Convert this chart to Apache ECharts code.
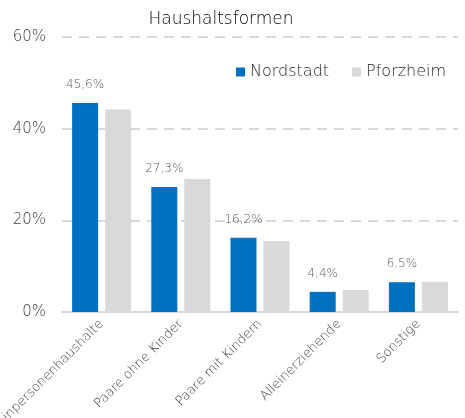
<!DOCTYPE html>
<html>
<head>
<meta charset="utf-8">
<script src="https://cdn.jsdelivr.net/npm/echarts@6/dist/echarts.min.js"></script>
<style>
  html, body { margin: 0; padding: 0; background: #ffffff; }
  #chart { width: 465px; height: 418px; }
</style>
</head>
<body>
<div id="chart"></div>
<script>
// Household types: share in Nordstadt vs. the whole city of Pforzheim (%)
const categories = ['Einpersonenhaushalte', 'Paare ohne Kinder', 'Paare mit Kindern', 'Alleinerziehende', 'Sonstige'];
const nordstadt = [45.6, 27.3, 16.2, 4.4, 6.5];
const pforzheim = [44.2, 29.0, 15.5, 4.8, 6.6];
const yTicks = [0, 20, 40, 60];

const font = '"DejaVu Sans", sans-serif';
const fmt = v => v.toFixed(1).replace('.', ',') + '%';

const chart = echarts.init(document.getElementById('chart'), null, { renderer: 'canvas' });
chart.setOption({
  animation: false,
  textStyle: { fontFamily: font },
  title: {
    text: 'Haushaltsformen',
    left: 216, top: 6, textAlign: 'center',
    textStyle: { fontFamily: font, fontSize: 17, fontWeight: 200, color: '#000000' }
  },
  legend: {
    left: 231, top: 59,
    itemWidth: 9, itemHeight: 9, itemGap: 23,
    icon: 'rect',
    textStyle: { fontFamily: font, fontSize: 16, fontWeight: 200, color: '#262626' },
    data: ['Nordstadt', 'Pforzheim']
  },
  grid: { left: 62, right: 7, top: 37, bottom: 106, containLabel: false, outerBoundsMode: 'none' },
  xAxis: {
    type: 'category',
    data: categories,
    axisTick: { show: false },
    axisLine: { lineStyle: { color: '#d9d9d9', width: 2 } },
    axisLabel: {
      rotate: 45, interval: 0, margin: 10,
      fontFamily: font, fontSize: 13, fontWeight: 200, color: '#404040'
    }
  },
  yAxis: {
    type: 'value',
    min: yTicks[0], max: yTicks[yTicks.length - 1], interval: 20,
    axisLine: { show: false },
    axisTick: { show: false },
    axisLabel: {
      margin: 16, fontFamily: font, fontSize: 15, fontWeight: 200, color: '#404040',
      formatter: v => v + '%'
    },
    splitLine: { lineStyle: { color: '#d9d9d9', width: 2, type: [10, 7] } }
  },
  series: [
    {
      name: 'Nordstadt', type: 'bar', data: nordstadt,
      barWidth: 26, barGap: '27%',
      itemStyle: { color: '#0070c0' },
      label: {
        show: true, position: 'top', distance: 12,
        fontFamily: font, fontSize: 12, fontWeight: 200, color: '#595959',
        formatter: p => fmt(p.value)
      }
    },
    {
      name: 'Pforzheim', type: 'bar', data: pforzheim,
      barWidth: 26,
      itemStyle: { color: '#d9d9d9' }
    }
  ]
});
</script>
</body>
</html>
